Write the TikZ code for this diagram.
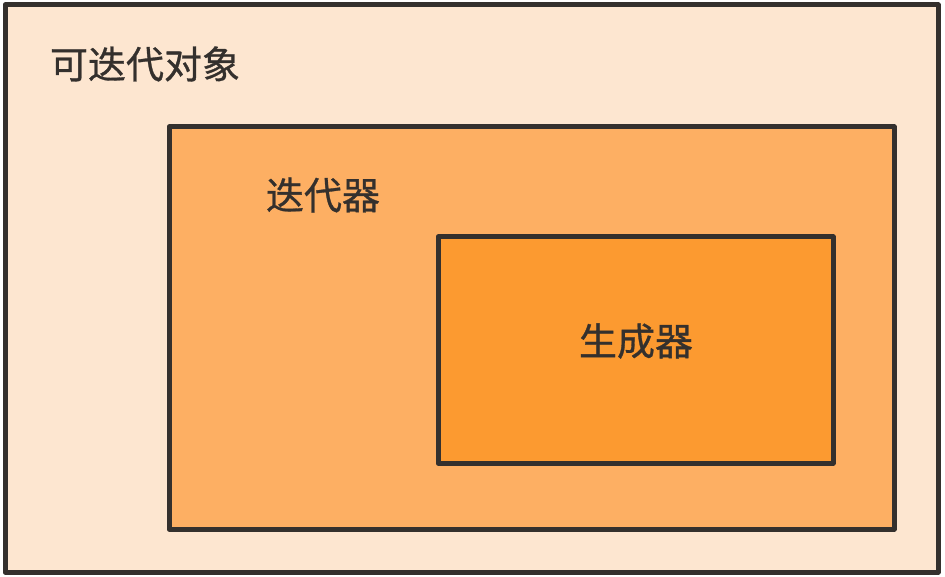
\documentclass[tikz,border=0pt]{standalone}
\usepackage{fontspec}
\newfontfamily\cjk[FakeBold=0.8]{Noto Sans CJK SC}
\definecolor{outerfill}{HTML}{FDE6D0}
\definecolor{midfill}{HTML}{FDAF63}
\definecolor{innerfill}{HTML}{FC9A30}
\definecolor{edge}{HTML}{34302D}
\tikzset{
  box/.style={draw=edge, line width=5pt, line join=round},
  lbl/.style={font=\cjk\fontsize{38}{42}\selectfont, text=edge, inner sep=0pt}
}
\begin{document}
\begin{tikzpicture}[x=1pt,y=-1pt]
\useasboundingbox (0,0) rectangle (945,577);
\fill[white] (0,0) rectangle (945,577);
\draw[box, fill=outerfill] (5,5) rectangle (938,572);
\draw[box, fill=midfill] (169,127) rectangle (894,529);
\draw[box, fill=innerfill] (438,237) rectangle (833,463);
\node[lbl] (iterable) at (145,64) {可迭代对象};
\node[lbl] (iterator) at (323,195) {迭代器};
\node[lbl] (generator) at (636,341) {生成器};
\end{tikzpicture}
\end{document}
